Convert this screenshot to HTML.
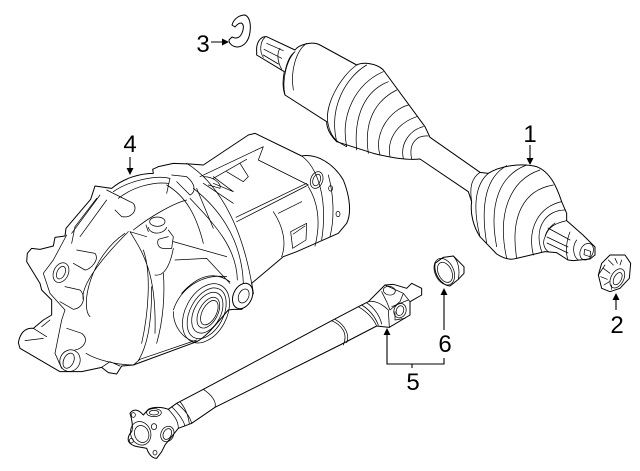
<!DOCTYPE html>
<html><head><meta charset="utf-8"><style>
html,body{margin:0;padding:0;background:#fff;width:640px;height:471px;overflow:hidden}
svg{display:block}
text{font-family:"Liberation Sans",sans-serif;font-size:24px;fill:#000;text-anchor:middle}
.d path,.d ellipse{fill:none;stroke:#000;stroke-width:2.2;stroke-linejoin:round;stroke-linecap:round}
.d .o{fill:#fff;stroke-width:3}
.a{stroke:#000;stroke-width:1.1;fill:none}
</style></head><body>
<svg width="640" height="471" viewBox="0 0 640 471" xmlns="http://www.w3.org/2000/svg">
<rect width="640" height="471" fill="#fff"/>

<!-- differential -->
<g class="d" transform="translate(0,120) scale(.33333)">
<path class="o" d="M55 668C60 640 75 622 100 625L130 600L155 585L155 540L125 510L120 490L80 425L82 400L95 385L120 388L160 378L165 352L195 348L198 325L272 238L285 198L335 205C370 175 420 160 460 160L458 148L475 140L520 130L570 132L610 135L745 45L765 40L905 108C950 100 1000 130 1030 180C1050 230 1055 280 1040 310L1015 340L890 395L850 410L755 490L760 520L745 550L725 568L700 568L685 570C650 610 620 650 590 665L400 735L365 738L350 762L325 758L305 742L245 755L180 755L60 685Z"/>
<path d="M600 170L790 80L775 120L925 195M710 305L925 195M708 292L920 190M640 175L740 118M680 155L730 185L745 170L720 130M640 170L700 215L640 190M610 190L700 250M590 205L640 325"/>
<ellipse cx="950" cy="180" rx="18" ry="26" transform="rotate(20 950 180)"/><ellipse cx="950" cy="180" rx="11" ry="18" transform="rotate(20 950 180)"/>
<ellipse cx="992" cy="205" rx="6" ry="8"/><ellipse cx="1014" cy="282" rx="6" ry="8"/>
<path d="M905 108C950 140 985 230 965 360M925 200C950 240 965 300 945 378M985 165C1000 220 1005 290 990 350M835 280L905 245M820 275C850 320 860 370 845 410M872 335L920 310L918 360L878 385ZM880 342L915 318"/>
<path d="M560 130C640 180 720 290 755 490M580 205C650 260 725 350 730 490M570 235C640 310 710 380 712 480M340 215C390 180 470 165 510 175M355 235C400 200 460 185 505 190M510 175L500 220M500 195C560 230 590 290 610 370M400 330C450 290 520 250 560 240"/>
<path d="M515 165L560 170C585 190 590 215 570 225L530 185M610 170C640 170 665 190 660 205L625 195"/>
<ellipse cx="472" cy="305" rx="23" ry="14"/>
<path d="M445 322C450 345 490 345 500 322M438 315L445 335M505 330L520 350L515 385L490 385C475 385 470 370 475 358L505 350"/>
<path d="M390 335L440 350M390 335C430 400 470 460 465 640M430 390C455 460 445 580 425 670M490 460C495 520 490 600 470 670M520 365L680 410M525 420L620 415L690 490M465 465C490 470 510 440 520 385"/>
<path d="M375 340C270 410 240 560 270 590M385 335C300 420 240 500 250 540M300 225L215 340M320 240L240 350M290 235L225 320L215 370M200 345L160 420L130 460L150 520L195 570L185 600L165 700L185 745"/>
<path d="M320 210L400 250C415 270 395 295 365 290L345 270M230 390L285 400C300 420 270 450 255 450L220 430M195 500L240 510C260 530 250 565 220 568L180 545M200 625L245 640C270 660 250 685 225 690"/>
<ellipse cx="183" cy="458" rx="22" ry="31" transform="rotate(25 183 458)"/><ellipse cx="183" cy="458" rx="12" ry="20" transform="rotate(25 183 458)"/>
<ellipse cx="210" cy="722" rx="30" ry="33" transform="rotate(25 210 722)"/><ellipse cx="206" cy="722" rx="15" ry="24" transform="rotate(25 206 722)"/>
<path d="M75 662L130 655M100 625L140 650M125 620L150 600M305 742L330 725L360 738M258 700C290 720 350 735 400 735"/>
<ellipse cx="618" cy="580" rx="62" ry="95" transform="rotate(28 618 580)"/>
<ellipse cx="620" cy="580" rx="50" ry="82" transform="rotate(28 620 580)"/>
<ellipse cx="622" cy="578" rx="40" ry="66" transform="rotate(28 622 578)"/>
<ellipse cx="625" cy="578" rx="28" ry="50" transform="rotate(28 625 578)"/>
<ellipse cx="628" cy="578" rx="21" ry="40" transform="rotate(28 628 578)"/>
<path d="M520 570C540 510 600 460 680 470M545 520C590 470 640 450 690 485M520 575C520 620 550 660 590 665M400 735L420 718L590 660M415 722C440 680 455 620 455 500"/>
<ellipse class="o" cx="728" cy="528" rx="28" ry="40" transform="rotate(25 728 528)"/>
<ellipse cx="731" cy="528" rx="15" ry="22" transform="rotate(25 731 528)"/>
</g>

<!-- CV axle -->
<g class="d" transform="translate(240,10) scale(.33333)">
<path class="o" d="M50 125C48 100 60 78 80 80L165 120C175 105 215 92 240 105L350 165C370 155 410 160 430 180L555 350L570 382L720 487L745 490C780 468 840 458 890 470C930 485 950 530 965 575L980 610L980 632L1029 675L1065 711L1065 735L1050 747L1000 752L984 750L950 728L915 725L830 745C810 752 790 745 770 732L720 680C700 650 690 610 695 575L685 545L540 447C500 452 440 440 400 430L290 395C270 375 260 355 260 335L135 255C128 235 128 210 133 185L50 135Z"/>
<path d="M165 125C140 150 125 210 135 255M200 100C170 120 150 180 160 240M135 185C140 160 150 135 165 125M75 82C60 95 58 125 70 142M80 100L130 122M72 118L125 145M70 135L115 162M120 115C110 130 112 155 125 178"/>
<path d="M350 165C300 200 250 290 265 345C275 390 300 400 320 410M380 165C320 200 265 290 290 395M430 185C350 220 300 310 320 410M445 215C380 240 340 310 350 420M470 240C410 270 370 330 385 430M505 285C450 300 400 370 420 435M530 320C470 340 440 390 450 440M550 350C510 360 480 400 490 445M565 378C530 375 505 400 515 447"/>
<path d="M745 490C710 520 695 580 720 680M800 467C740 500 720 580 740 700M860 465C780 495 745 580 770 710M900 480C810 510 770 610 800 745M940 525C850 540 810 620 830 745M965 575C900 590 860 650 880 735M975 600C920 600 880 650 905 725M720 487C695 505 688 530 695 575"/>
<path d="M915 681C925 650 945 640 980 632M915 681C905 700 915 718 925 725M924 654L990 690M921 681L984 711M921 699L984 729M945 639C930 650 918 665 915 681M990 666C980 690 975 725 984 750"/>
<ellipse cx="1040" cy="725" rx="19" ry="26" transform="rotate(25 1040 725)"/>
<path d="M1010 690C995 710 1000 740 1015 750M1034 718L1052 724L1050 740L1032 734Z"/>
</g>

<!-- drive shaft -->
<g class="d" transform="translate(110,250) scale(.33333)">
<path class="o" d="M60 490C70 475 85 478 100 495L115 478C130 470 155 470 175 478L200 460L280 418L665 212L745 170L775 155L825 105L850 103L890 115L905 100L935 115L935 135L900 155L900 195L838 232L800 228L690 285L315 472L245 520L205 535L165 585L155 605L140 625C125 625 115 610 110 595C85 590 70 590 60 580C50 570 55 555 65 545C70 530 65 505 60 490Z"/>
<ellipse cx="92" cy="550" rx="30" ry="36" transform="rotate(-20 92 550)"/>
<ellipse cx="95" cy="552" rx="21" ry="26" transform="rotate(-20 95 552)"/>
<ellipse cx="132" cy="488" rx="22" ry="12"/><ellipse cx="132" cy="488" rx="14" ry="7"/>
<ellipse cx="172" cy="552" rx="19" ry="24" transform="rotate(25 172 552)"/><ellipse cx="172" cy="552" rx="12" ry="17" transform="rotate(25 172 552)"/>
<ellipse cx="70" cy="495" rx="6" ry="7"/><ellipse cx="64" cy="572" rx="6" ry="7"/><ellipse cx="135" cy="608" rx="6" ry="7"/><ellipse cx="132" cy="530" rx="8" ry="9"/>
<path d="M175 478C190 495 205 510 205 535M185 470C205 490 220 510 225 528M200 460C225 480 240 500 245 520M210 455C230 480 235 500 238 522M280 418C305 435 320 455 315 472M665 212C695 225 715 250 700 285M675 208C705 225 720 255 710 278M745 170C770 185 790 205 800 228M755 165C780 180 795 200 805 225M770 158C795 175 810 200 815 222"/>
<path d="M775 155C790 150 815 160 835 180L838 232M825 105L880 130L870 155L840 180L830 155L815 125M880 130L900 155M845 170L895 150M855 185L855 210L885 205"/>
<ellipse cx="838" cy="122" rx="18" ry="13" transform="rotate(10 838 122)"/>
<ellipse cx="870" cy="182" rx="18" ry="22" transform="rotate(20 870 182)"/><ellipse cx="870" cy="182" rx="11" ry="15" transform="rotate(20 870 182)"/>
</g>

<!-- seal 6 -->
<g class="d" transform="translate(110,250) scale(.33333)">
<path class="o" d="M975 40L1000 22L1030 18L1062 50L1062 70L1045 88L1020 108C995 105 970 75 975 40Z"/>
<ellipse cx="1003" cy="65" rx="28" ry="42" transform="rotate(-25 1003 65)"/>
<ellipse cx="1005" cy="67" rx="20" ry="32" transform="rotate(-25 1005 67)"/>
<path d="M1030 18C1045 35 1050 60 1045 88"/>
</g>

<!-- nut 2 -->
<g class="d" transform="translate(530,210) scale(.33333)">
<path class="o" d="M205 195L215 160L240 135L285 135L302 160L298 205L270 235L240 245L215 235Z"/>
<ellipse cx="262" cy="205" rx="19" ry="31" transform="rotate(28 262 205)"/>
<ellipse cx="263" cy="206" rx="11" ry="20" transform="rotate(28 263 206)"/>
<path d="M235 150L250 165M255 145L262 160M275 150L270 165M220 175L240 190M212 200L232 208M222 225L238 215M245 238L245 225M225 165L205 195"/>
</g>

<!-- clip 3 -->
<path d="M232 25C234 18 240 15 245 15C250 17 251 25 250 32C249 40 245 46 238 47C233 47 229 44 229 40L232 37C236 39 240 38 242 33C244 28 244 24 241 23C238 23 236 26 235 27Z" fill="#fff" stroke="#000" stroke-width="1" stroke-linejoin="round"/>

<!-- leaders -->
<path class="a" d="M211 42H225M130 157V170M530 145V160M616 310V298M387 333V364H444V358M444 330V293M412 364V368"/>
<path d="M229 42L222 38.500V45.500ZM130 175L126.500 168H133.500ZM530 165L526.500 158H533.500ZM616 293L612.500 300H619.500ZM387 328L383.500 335H390.500ZM444 288L440.500 295H447.500Z" fill="#000"/>

<text x="203" y="52">3</text>
<text x="130" y="152">4</text>
<text x="530" y="142">1</text>
<text x="617" y="333">2</text>
<text x="413" y="390">5</text>
<text x="445" y="352">6</text>
</svg>
</body></html>
